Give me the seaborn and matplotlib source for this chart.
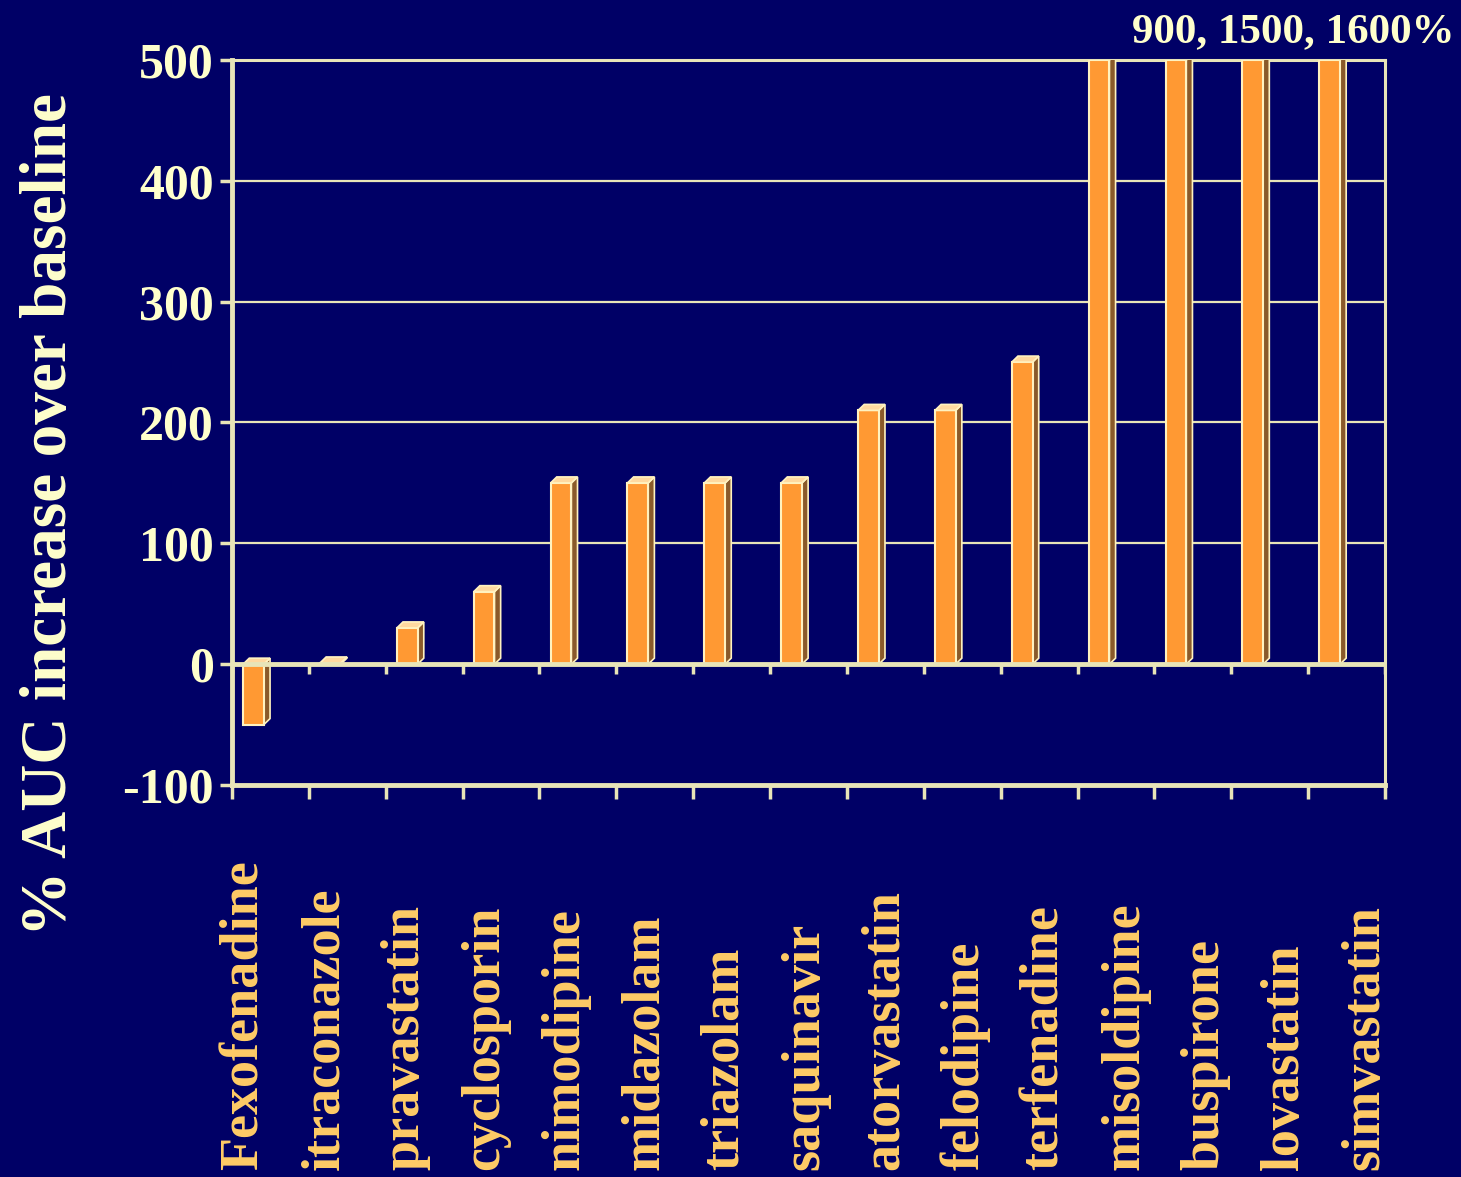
import matplotlib
matplotlib.use("Agg")
import matplotlib.pyplot as plt
from matplotlib.patches import Polygon
import seaborn as sns
import pandas as pd
import numpy as np

drugs = ["Fexofenadine", "itraconazole", "pravastatin", "cyclosporin", "nimodipine",
         "midazolam", "triazolam", "saquinavir", "atorvastatin", "felodipine",
         "terfenadine", "misoldipine", "buspirone", "lovastatin", "simvastatin"]
auc_increase = [-50, 1, 30, 60, 150, 150, 150, 150, 210, 210, 250, 500, 500, 500, 500]
y_ticks = [-100, 0, 100, 200, 300, 400, 500]
note_text = "900, 1500, 1600%"
ylabel_text = "% AUC increase over baseline"

BG = "#000066"
FRAME = "#E8E4B8"
ORANGE = "#FF9933"
SIDE = "#8A5A2A"
TOP = "#FFD9A0"
XLAB = "#FFCC66"
YLAB = "#FFFFCC"

sns.set_theme(style="white")
plt.rcParams["font.family"] = ["Liberation Serif", "DejaVu Serif"]
plt.rcParams["font.weight"] = "bold"

W, H = 1461, 1177
fig = plt.figure(figsize=(W / 100, H / 100), dpi=100, facecolor=BG)
ax = fig.add_axes([232 / W, (H - 785) / H, (1385 - 232) / W, (785 - 60) / H])
ax.set_facecolor(BG)

df = pd.DataFrame({"drug": drugs, "auc": auc_increase})
sns.barplot(data=df, x="drug", y="auc", color=ORANGE, width=0.27, ax=ax,
            edgecolor="#FFF2C0", linewidth=1.5, saturation=1, zorder=3)

ax.set_ylim(-100, 500)
ax.set_xlim(-0.5, len(drugs) - 0.5)

# shift bars to the left part of each slot and add a 3D side/top face
dx, dy_px = 0.08, 6
ppu = (785 - 60) / 600.0
dy = dy_px / ppu
for p in list(ax.patches):
    p.set_x(p.get_x() - 0.22)
    x0, y0 = p.get_x(), p.get_y()
    w, h = p.get_width(), p.get_height()
    top = max(y0, y0 + h)
    bot = min(y0, y0 + h)
    side = Polygon([[x0 + w, bot], [x0 + w + dx, bot + dy], [x0 + w + dx, top + dy], [x0 + w, top]],
                   closed=True, facecolor=SIDE, edgecolor="#FFF2C0", lw=1.2, zorder=2.9)
    topf = Polygon([[x0, top], [x0 + dx, top + dy], [x0 + w + dx, top + dy], [x0 + w, top]],
                   closed=True, facecolor=TOP, edgecolor="#FFF2C0", lw=1.2, zorder=3.1)
    ax.add_patch(side)
    ax.add_patch(topf)

# grid and frame
for yv in [100, 200, 300, 400]:
    ax.axhline(yv, color=FRAME, lw=1.6, zorder=1)
ax.axhline(0, color=FRAME, lw=3.5, zorder=4)
for s in ax.spines.values():
    s.set_color(FRAME)
    s.set_linewidth(2.2)
ax.spines["left"].set_linewidth(3.5)
ax.spines["bottom"].set_linewidth(3.5)

# ticks
bounds = np.arange(-0.5, len(drugs) + 0.5, 1.0)
ax.set_xticks(bounds, minor=True)
ax.set_xticks([])
ax.tick_params(axis="x", which="minor", direction="out", length=10, width=2.5, color=FRAME, bottom=True)
ax.vlines(bounds, 0, -10 / ppu, color=FRAME, lw=2.5, zorder=4)

ax.set_yticks(y_ticks)
ax.set_yticklabels([str(v) for v in y_ticks])
ax.tick_params(axis="y", direction="out", length=9, width=2.5, color=FRAME, left=True,
               labelsize=36, labelcolor=YLAB, pad=4)
for lab in ax.get_yticklabels():
    lab.set_fontweight("bold")
ax.set_xlabel("")
ax.set_ylabel("")

# x labels, bottom-aligned near the figure bottom
for i, name in enumerate(drugs):
    fig.text((245 + 80.0 * i) / W, 7 / H, name, rotation=90, ha="center", va="bottom",
             fontsize=39, fontweight="bold", color=XLAB)

fig.text(50 / W, (H - 515) / H, ylabel_text, rotation=90, ha="center", va="center",
         fontsize=47, fontweight="bold", color=YLAB)
fig.text(1454 / W, (H - 32) / H, note_text, ha="right", va="center",
         fontsize=31, fontweight="bold", color=YLAB)

fig.savefig("out.png", dpi=100, facecolor=BG)
